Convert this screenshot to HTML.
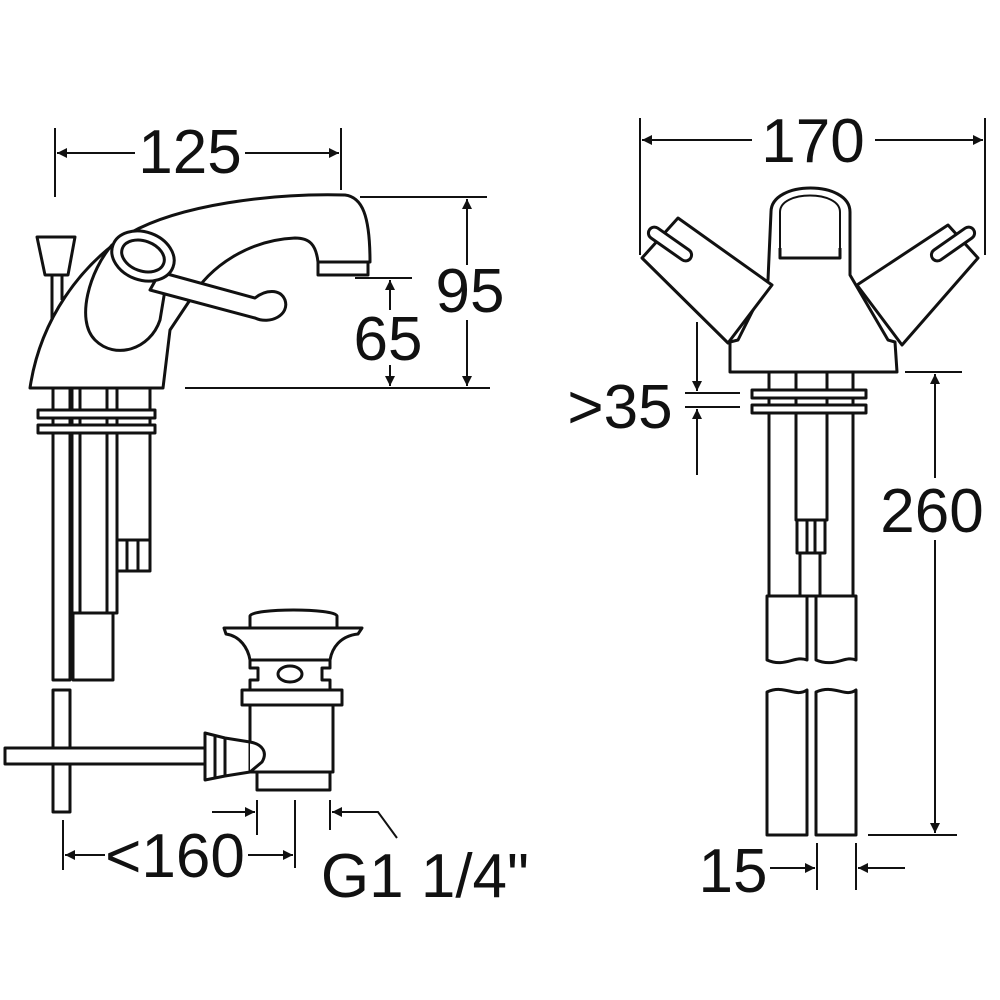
<!DOCTYPE html>
<html><head><meta charset="utf-8"><style>html,body{margin:0;padding:0;background:#fff}svg{display:block}text{font-family:"Liberation Sans",sans-serif;fill:#111;font-size:62px}</style></head>
<body>
<svg width="1000" height="1000" viewBox="0 0 1000 1000" xmlns="http://www.w3.org/2000/svg">
<defs>
<marker id="a" viewBox="0 0 10 10" refX="10" refY="5" markerWidth="16" markerHeight="10" markerUnits="userSpaceOnUse" orient="auto"><path d="M0,0 L10,5 L0,10 z" fill="#111"/></marker>
</defs>
<g stroke="#111" fill="none" stroke-width="2">
<!-- 125 -->
<line x1="55" y1="128" x2="55" y2="197"/><line x1="341" y1="128" x2="341" y2="190"/>
<line x1="135" y1="153" x2="57" y2="153" marker-end="url(#a)"/><line x1="245" y1="153" x2="339" y2="153" marker-end="url(#a)"/>
<!-- 95 / 65 -->
<line x1="360" y1="197" x2="487" y2="197"/><line x1="185" y1="388" x2="490" y2="388"/>
<line x1="467" y1="265" x2="467" y2="199" marker-end="url(#a)"/><line x1="467" y1="320" x2="467" y2="386" marker-end="url(#a)"/>
<line x1="355" y1="278" x2="412" y2="278"/>
<line x1="390" y1="310" x2="390" y2="280" marker-end="url(#a)"/><line x1="390" y1="365" x2="390" y2="386" marker-end="url(#a)"/>
</g>
<g stroke="#111" fill="#fff" stroke-width="3" stroke-linejoin="round">
<!-- left faucet -->
<path d="M30,388 C40,320 80,265 130,233 C180,205 270,193 345,195 C362,197 370,215 370,262 L318,262 C316,245 310,238 295,238 C250,240 210,265 190,300 L170,330 L163,388 Z"/>
<rect x="318" y="262" width="50" height="13"/>
<path d="M112,245 C90,270 75,320 95,340 C115,360 150,350 160,320 L165,290 Z"/>
<path d="M150,290 L255,318 C270,325 290,315 285,300 C280,288 265,290 255,298 L160,272 Z"/>
<ellipse cx="143" cy="256" rx="32" ry="24" transform="rotate(20 143 256)"/>
<ellipse cx="143" cy="256" rx="22" ry="15" transform="rotate(20 143 256)"/>
<path d="M37,237 L75,237 L68,275 L45,275 Z"/><line x1="52" y1="275" x2="52" y2="320"/><line x1="62" y1="275" x2="62" y2="300"/>
<rect x="53" y="388" width="17" height="292"/><rect x="72" y="388" width="8" height="225"/>
<rect x="107" y="388" width="10" height="225"/><rect x="117" y="388" width="33" height="183"/>
<line x1="117" y1="540" x2="150" y2="540"/><line x1="127" y1="540" x2="127" y2="571"/><line x1="138" y1="540" x2="138" y2="571"/>
<rect x="73" y="613" width="40" height="67"/>
<rect x="38" y="410" width="117" height="8"/><rect x="38" y="425" width="117" height="8"/>
<!-- waste -->
<rect x="53" y="690" width="17" height="122"/>
<rect x="5" y="748" width="205" height="16"/>
<path d="M205,733 L225,738 L250,742 L250,772 L225,776 L205,780 Z"/>
<line x1="215" y1="736" x2="215" y2="778"/><line x1="225" y1="738" x2="225" y2="776"/>
<rect x="257" y="770" width="73" height="20"/>
<rect x="250" y="705" width="83" height="67"/>
<path d="M250,742 C262,744 268,752 262,762 L250,772"/>
<rect x="242" y="690" width="100" height="15"/>
<path d="M250,690 L250,680 L258,680 L258,668 L250,668 L250,660 L330,660 L330,668 L322,668 L322,680 L330,680 L330,690 Z"/>
<ellipse cx="290" cy="674" rx="12" ry="8"/>
<path d="M224,628 L362,628 L358,634 C340,636 332,648 330,660 L250,660 C248,648 240,636 226,634 Z"/>
<path d="M250,628 L250,616 C252,608 335,608 337,616 L337,628 Z"/>
<!-- right faucet -->
<path d="M738,340 L730,342 L730,372 L897,372 L895,342 L888,340 L850,275 L850,212 C850,180 771,180 771,212 L768,280 Z"/>
<path d="M780,248 L780,258 L840,258 L840,248"/>
<path d="M780,248 L780,212 C780,190 840,190 840,212 L840,248" fill="none" stroke-width="2"/>
<path d="M642,258 L678,218 L772,285 L728,343 Z"/>
<rect x="645" y="238" width="50" height="12" rx="6" transform="rotate(35 670 244)"/>
<path d="M978,258 L948,225 L857,285 L902,345 Z"/>
<rect x="928" y="238" width="50" height="12" rx="6" transform="rotate(-35 953 244)"/>
<rect x="769" y="372" width="84" height="224"/>
<rect x="796" y="372" width="31" height="148"/>
<rect x="797" y="520" width="28" height="33"/><line x1="807" y1="520" x2="807" y2="553"/><line x1="815" y1="520" x2="815" y2="553"/>
<rect x="800" y="553" width="20" height="43"/>
<rect x="752" y="390" width="114" height="8"/><rect x="752" y="405" width="114" height="8"/>
<path d="M767,596 L807,596 L807,660 C795,655 785,668 767,660 Z"/>
<path d="M816,596 L856,596 L856,660 C845,655 835,668 816,660 Z"/>
<path d="M767,692 C785,684 795,698 807,690 L807,835 L767,835 Z"/>
<path d="M816,692 C835,684 845,698 856,690 L856,835 L816,835 Z"/>
</g>
<g stroke="#111" fill="none" stroke-width="2">
<!-- 170 -->
<line x1="640" y1="118" x2="640" y2="255"/><line x1="985" y1="118" x2="985" y2="255"/>
<line x1="752" y1="140" x2="642" y2="140" marker-end="url(#a)"/><line x1="875" y1="140" x2="983" y2="140" marker-end="url(#a)"/>
<!-- >35 -->
<line x1="685" y1="393" x2="740" y2="393"/><line x1="685" y1="407" x2="740" y2="407"/>
<line x1="697" y1="322" x2="697" y2="391" marker-end="url(#a)"/><line x1="697" y1="475" x2="697" y2="409" marker-end="url(#a)"/>
<!-- 260 -->
<line x1="905" y1="372" x2="962" y2="372"/><line x1="868" y1="835" x2="957" y2="835"/>
<line x1="935" y1="478" x2="935" y2="374" marker-end="url(#a)"/><line x1="935" y1="540" x2="935" y2="833" marker-end="url(#a)"/>
<!-- 15 -->
<line x1="817" y1="843" x2="817" y2="890"/><line x1="856" y1="843" x2="856" y2="890"/>
<line x1="770" y1="868" x2="815" y2="868" marker-end="url(#a)"/><line x1="905" y1="868" x2="858" y2="868" marker-end="url(#a)"/>
<!-- <160 -->
<line x1="63" y1="820" x2="63" y2="870"/><line x1="257" y1="800" x2="257" y2="835"/><line x1="295" y1="800" x2="295" y2="868"/><line x1="330" y1="800" x2="330" y2="830"/>
<line x1="105" y1="855" x2="65" y2="855" marker-end="url(#a)"/><line x1="248" y1="855" x2="293" y2="855" marker-end="url(#a)"/>
<line x1="212" y1="812" x2="255" y2="812" marker-end="url(#a)"/>
<polyline points="397,838 378,812 332,812" marker-end="url(#a)"/>
</g>
<text x="190" y="173" text-anchor="middle">125</text>
<text x="470" y="312" text-anchor="middle">95</text>
<text x="388" y="360" text-anchor="middle">65</text>
<text x="813" y="162" text-anchor="middle">170</text>
<text x="620" y="428" text-anchor="middle">&gt;35</text>
<text x="932" y="532" text-anchor="middle">260</text>
<text x="733" y="892" text-anchor="middle">15</text>
<text x="175" y="877" text-anchor="middle">&lt;160</text>
<text x="425" y="897" text-anchor="middle">G1 1/4"</text>
</svg>
</body></html>
